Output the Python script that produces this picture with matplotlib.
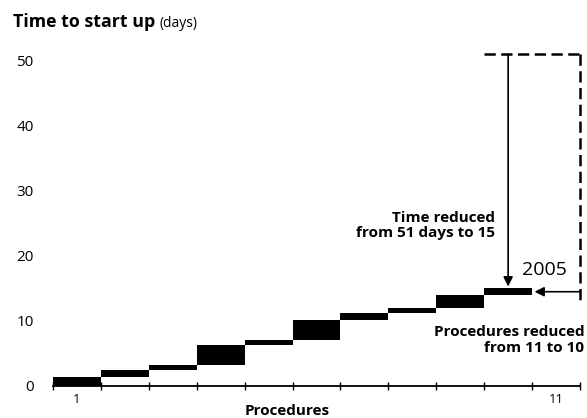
import matplotlib
matplotlib.use("Agg")
import matplotlib.pyplot as plt
import numpy as np

plt.rcParams['font.family'] = ['Open Sans', 'DejaVu Sans']

# days taken by each procedure (2005)
procedures = np.arange(1, 11)
days = [1.4, 1.1, 0.7, 3.1, 0.8, 3.1, 1.0, 0.8, 2.0, 1.0]
old_days = 51
new_days = 15
old_procs = 11
new_procs = 10
y_ticks = [0, 10, 20, 30, 40, 50]
x_labels = {1: '1', 11: '11'}

start = np.concatenate([[0], np.cumsum(days)[:-1]])

fig = plt.figure(figsize=(5.87, 4.18), dpi=100)
ax = fig.add_axes([0.0903, 0.0766, 0.8978, 0.8242])

ax.bar(procedures, days, bottom=start, width=1.0, color='black', linewidth=0)

ax.set_xlim(0.5, old_procs + 0.5)
ax.set_ylim(0, 53)

for s in ['top', 'right', 'left']:
    ax.spines[s].set_visible(False)
ax.spines['bottom'].set_linewidth(1.3)

ax.set_yticks(y_ticks)
ax.tick_params(axis='y', length=0, pad=14, labelsize=11)
for lab in ax.get_yticklabels():
    lab.set_horizontalalignment('right')

ax.set_xticks(list(x_labels.keys()))
ax.set_xticklabels(list(x_labels.values()))
ax.set_xticks(np.arange(0.5, old_procs + 1), minor=True)
ax.tick_params(axis='x', which='major', length=0, pad=5, labelsize=9.5)
ax.tick_params(axis='x', which='minor', direction='inout', length=6, width=1.0)

# dashed outline of the old 51-day, 11-procedure situation
ax.plot([9.5, old_procs + 0.5], [old_days, old_days], color='black',
        lw=1.8, ls=(0, (4.5, 2.2)), clip_on=False)
ax.plot([old_procs + 0.5, old_procs + 0.5], [old_days, 12.8], color='black',
        lw=1.8, ls=(0, (4.5, 2.2)), clip_on=False)

# time reduced arrow
ax.annotate('', xy=(new_procs, new_days + 0.3), xytext=(new_procs, old_days),
            arrowprops=dict(arrowstyle='-|>', color='black', lw=1.2,
                            mutation_scale=14, shrinkA=0, shrinkB=0),
            annotation_clip=False)
# procedures reduced arrow
ax.annotate('', xy=(new_procs + 0.55, 14.5), xytext=(old_procs + 0.5, 14.5),
            arrowprops=dict(arrowstyle='-|>', color='black', lw=1.2,
                            mutation_scale=14, shrinkA=0, shrinkB=0),
            annotation_clip=False)

ax.text(9.73, 24.7, 'Time reduced\nfrom %d days to %d' % (old_days, new_days),
        ha='right', va='center', multialignment='right', fontsize=11,
        fontweight='bold', linespacing=1.15)
ax.text(10.75, 17.8, '2005', ha='center', va='center', fontsize=14)
ax.text(11.59, 7.1, 'Procedures reduced\nfrom %d to %d' % (old_procs, new_procs),
        ha='right', va='center', multialignment='right', fontsize=11,
        fontweight='bold', linespacing=1.15, clip_on=False)

fig.text(0.489, 0.006, 'Procedures', ha='center', va='baseline',
         fontsize=11, fontweight='bold')
title = fig.text(0.022, 0.935, 'Time to start up', ha='left', va='baseline',
                 fontsize=12.8, fontweight='bold')
# put "(days)" just after the bold title
fig.canvas.draw()
bb = title.get_window_extent().transformed(fig.transFigure.inverted())
fig.text(bb.x1 + 0.008, 0.935, '(days)', ha='left', va='baseline', fontsize=10)

fig.savefig('out.png', dpi=100)
